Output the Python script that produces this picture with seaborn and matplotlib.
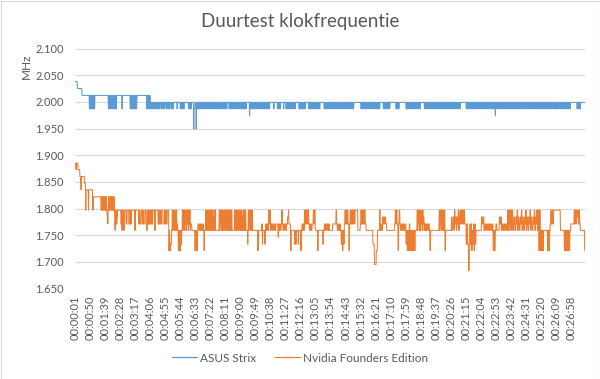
import matplotlib
matplotlib.use("Agg")
import matplotlib.pyplot as plt
from matplotlib.lines import Line2D
from matplotlib.patches import Rectangle
import seaborn as sns
import pandas as pd
import numpy as np

sns.set_theme(style="white")
plt.rcParams["font.family"] = ["Lato", "DejaVu Sans"]

# ---------------- data ----------------
title = "Duurtest klokfrequentie"
y_label = "MHz"
series_names = ["ASUS Strix", "Nvidia Founders Edition"]
n_seconds = 1663  # one sample per second, first sample = 00:00:01

tick_labels = ["00:00:01", "00:00:50", "00:01:39", "00:02:28", "00:03:17", "00:04:06",
               "00:04:55", "00:05:44", "00:06:33", "00:07:22", "00:08:11", "00:09:00",
               "00:09:49", "00:10:38", "00:11:27", "00:12:16", "00:13:05", "00:13:54",
               "00:14:43", "00:15:32", "00:16:21", "00:17:10", "00:17:59", "00:18:48",
               "00:19:37", "00:20:26", "00:21:15", "00:22:04", "00:22:53", "00:23:42",
               "00:24:31", "00:25:20", "00:26:09", "00:26:58"]

y_ticks = [1650, 1700, 1750, 1800, 1850, 1900, 1950, 2000, 2050, 2100]

# (second at which the clock changes, new clock in MHz)
asus_steps = [
    (0, 2038), (8, 2025), (23, 2012),
    (47, 1987), (49, 2012), (51, 1987), (53, 2012), (55, 1987), (57, 2012), (59, 1987), (61, 2012), (63, 1987), (65, 2012),
    (109, 1987), (111, 2012), (113, 1987), (115, 2012), (117, 1987), (119, 2012), (122, 1987), (124, 2012), (126, 1987),
    (128, 2012), (130, 1987), (132, 2012), (134, 1987), (136, 2012),
    (153, 1987), (155, 2012),
    (180, 1987), (182, 2012), (184, 1987), (186, 2012), (188, 1987), (190, 2012), (192, 1987), (194, 2012), (196, 1987),
    (198, 2012), (200, 1987), (202, 2012),
    (234, 1987), (236, 2012), (238, 1987), (240, 2012), (242, 1987), (244, 2012),
    (245, 1999), (247, 1987), (249, 1999), (251, 1987), (253, 1999), (255, 1987), (257, 1999), (259, 1987), (261, 1999),
    (263, 1987), (265, 1999), (267, 1987), (269, 1999), (272, 1987), (274, 1999), (276, 1987), (278, 1999), (282, 1987),
    (284, 1999), (287, 1987), (289, 1999), (292, 1987), (294, 1999), (298, 1987), (300, 1999), (303, 1987), (305, 1999),
    (308, 1987), (310, 1999), (314, 1987), (316, 1999), (319, 1987), (321, 1999),
    (333, 1987), (334, 1999), (343, 1987), (345, 1999), (347, 1987), (349, 1999), (351, 1987), (353, 1999), (355, 1987),
    (356, 1999), (370, 1987), (372, 1999), (374, 1987), (376, 1999), (378, 1987), (380, 1999),
    (387, 1949), (388, 1987), (391, 1999), (395, 1949), (396, 1987), (398, 1999),
    (400, 1987), (402, 1999), (405, 1987), (407, 1999), (410, 1987), (412, 1999), (414, 1987), (416, 1999), (419, 1987),
    (421, 1999), (424, 1987), (426, 1999), (428, 1987), (430, 1999), (433, 1987), (435, 1999), (438, 1987), (440, 1999),
    (442, 1987), (444, 1999), (447, 1987), (449, 1999), (452, 1987), (454, 1999), (456, 1987), (458, 1999), (461, 1987),
    (463, 1999), (466, 1987), (468, 1999), (470, 1987), (472, 1999), (475, 1987), (477, 1999), (480, 1987), (482, 1999),
    (484, 1987), (486, 1999), (489, 1987), (491, 1999), (494, 1987), (496, 1999),
    (502, 1987), (504, 1999), (507, 1987), (509, 1999), (512, 1987), (514, 1999), (517, 1987), (519, 1999), (522, 1987),
    (524, 1999), (527, 1987), (529, 1999), (532, 1987), (534, 1999), (537, 1987), (539, 1999), (542, 1987), (544, 1999),
    (547, 1987), (549, 1999), (552, 1987), (554, 1999), (557, 1987), (559, 1999),
    (569, 1974), (570, 1999),
    (573, 1987), (575, 1999), (578, 1987), (580, 1999), (583, 1987), (585, 1999), (588, 1987), (590, 1999), (593, 1987),
    (595, 1999), (598, 1987), (600, 1999), (603, 1987), (605, 1999), (608, 1987), (610, 1999), (613, 1987), (615, 1999),
    (618, 1987), (620, 1999), (623, 1987), (625, 1999), (628, 1987), (630, 1999), (633, 1987), (635, 1999),
    (648, 1987), (649, 1999),
    (660, 1987), (662, 1999), (664, 1987), (666, 1999), (668, 1987), (670, 1999),
    (680, 1987), (681, 1999), (688, 1987), (689, 1999),
    (692, 1987), (694, 1999), (697, 1987), (699, 1999), (702, 1987), (704, 1999), (707, 1987), (709, 1999), (712, 1987),
    (714, 1999), (717, 1987), (719, 1999),
    (730, 1987), (732, 1999), (735, 1987), (737, 1999), (740, 1987), (742, 1999), (745, 1987), (747, 1999), (750, 1987),
    (752, 1999),
    (762, 1987), (764, 1999), (767, 1987), (769, 1999), (772, 1987), (774, 1999), (777, 1987), (779, 1999), (782, 1987),
    (784, 1999), (787, 1987), (789, 1999), (792, 1987), (794, 1999), (797, 1987), (799, 1999),
    (812, 1987), (814, 1999), (817, 1987), (819, 1999), (822, 1987), (824, 1999), (827, 1987), (829, 1999), (832, 1987),
    (834, 1999), (837, 1987), (839, 1999), (842, 1987), (844, 1999), (847, 1987), (849, 1999), (852, 1987), (854, 1999),
    (857, 1987), (859, 1999), (862, 1987), (864, 1999), (867, 1987), (869, 1999), (872, 1987), (874, 1999), (877, 1987),
    (879, 1999), (882, 1987), (884, 1999), (887, 1987), (889, 1999), (892, 1987), (894, 1999), (897, 1987), (899, 1999),
    (902, 1987), (904, 1999), (907, 1987), (909, 1999),
    (932, 1987), (934, 1999), (937, 1987), (939, 1999), (942, 1987), (944, 1999), (947, 1987), (949, 1999), (952, 1987),
    (954, 1999), (957, 1987), (959, 1999), (962, 1987), (964, 1999), (967, 1987), (969, 1999), (972, 1987), (974, 1999),
    (977, 1987), (979, 1999), (982, 1987), (984, 1999), (987, 1987), (989, 1999), (992, 1987), (994, 1999),
    (1005, 1987), (1007, 1999), (1010, 1987), (1012, 1999), (1015, 1987), (1017, 1999), (1020, 1987), (1022, 1999),
    (1025, 1987), (1027, 1999),
    (1046, 1987), (1048, 1999), (1051, 1987), (1053, 1999), (1055, 1987), (1057, 1999),
    (1079, 1987), (1081, 1999), (1084, 1987), (1086, 1999), (1089, 1987), (1091, 1999), (1094, 1987), (1096, 1999),
    (1099, 1987), (1101, 1999), (1104, 1987), (1106, 1999), (1109, 1987), (1111, 1999), (1114, 1987), (1116, 1999),
    (1119, 1987), (1121, 1999), (1124, 1987), (1126, 1999),
    (1139, 1987), (1141, 1999), (1144, 1987), (1146, 1999), (1149, 1987), (1151, 1999), (1154, 1987), (1156, 1999),
    (1159, 1987), (1161, 1999), (1164, 1987), (1166, 1999), (1169, 1987), (1171, 1999), (1174, 1987), (1176, 1999),
    (1179, 1987), (1181, 1999), (1184, 1987), (1186, 1999), (1189, 1987), (1191, 1999), (1194, 1987), (1196, 1999),
    (1199, 1987), (1201, 1999), (1204, 1987), (1206, 1999), (1209, 1987), (1211, 1999), (1214, 1987), (1216, 1999),
    (1219, 1987), (1221, 1999), (1224, 1987), (1226, 1999), (1229, 1987), (1231, 1999), (1234, 1987), (1236, 1999),
    (1239, 1987), (1241, 1999), (1244, 1987), (1246, 1999), (1249, 1987), (1251, 1999), (1254, 1987), (1256, 1999),
    (1275, 1987), (1277, 1999), (1280, 1987), (1282, 1999), (1285, 1987), (1287, 1999), (1290, 1987), (1292, 1999),
    (1295, 1987), (1297, 1999), (1300, 1987), (1302, 1999), (1305, 1987), (1307, 1999), (1310, 1987), (1312, 1999),
    (1315, 1987), (1317, 1999), (1320, 1987), (1322, 1999), (1325, 1987), (1327, 1999), (1330, 1987), (1332, 1999),
    (1335, 1987), (1337, 1999), (1340, 1987), (1342, 1999), (1345, 1987), (1347, 1999), (1350, 1987), (1352, 1999),
    (1355, 1987), (1357, 1999), (1360, 1987), (1362, 1999), (1365, 1987), (1367, 1999),
    (1370, 1974), (1371, 1999),
    (1374, 1987), (1376, 1999), (1378, 1987), (1380, 1999), (1383, 1987), (1385, 1999), (1387, 1987), (1389, 1999),
    (1392, 1987), (1394, 1999), (1397, 1987), (1399, 1999), (1401, 1987), (1403, 1999), (1406, 1987), (1408, 1999),
    (1410, 1987), (1412, 1999), (1415, 1987), (1417, 1999), (1420, 1987), (1422, 1999), (1424, 1987), (1426, 1999),
    (1429, 1987), (1431, 1999), (1434, 1987), (1436, 1999), (1438, 1987), (1440, 1999), (1443, 1987), (1445, 1999),
    (1447, 1987), (1449, 1999), (1452, 1987), (1454, 1999), (1457, 1987), (1459, 1999), (1461, 1987), (1463, 1999),
    (1466, 1987), (1468, 1999), (1470, 1987), (1472, 1999), (1475, 1987), (1477, 1999), (1480, 1987), (1482, 1999),
    (1484, 1987), (1486, 1999), (1489, 1987), (1491, 1999), (1494, 1987), (1496, 1999), (1498, 1987), (1500, 1999),
    (1503, 1987), (1505, 1999), (1507, 1987), (1509, 1999), (1512, 1987), (1514, 1999), (1517, 1987), (1519, 1999),
    (1521, 1987), (1523, 1999), (1526, 1987), (1528, 1999), (1530, 1987), (1532, 1999), (1535, 1987), (1537, 1999),
    (1540, 1987), (1542, 1999), (1544, 1987), (1546, 1999), (1549, 1987), (1551, 1999), (1553, 1987), (1555, 1999),
    (1558, 1987), (1560, 1999), (1563, 1987), (1565, 1999), (1567, 1987), (1569, 1999), (1572, 1987), (1574, 1999),
    (1576, 1987), (1578, 1999), (1581, 1987), (1583, 1999), (1586, 1987), (1588, 1999), (1590, 1987), (1592, 1999),
    (1595, 1987), (1597, 1999), (1599, 1987), (1601, 1999), (1604, 1987), (1606, 1999), (1609, 1987), (1611, 1999),
    (1613, 1987), (1615, 1999),
    (1636, 1987), (1638, 1999), (1641, 1987), (1643, 1999), (1646, 1987), (1648, 1999),
]

nvidia_steps = [
    (0, 1885), (3, 1873), (5, 1885), (10, 1873), (16, 1860), (19, 1847), (20, 1835), (21, 1860), (31, 1847),
    (35, 1797), (36, 1835), (44, 1797), (45, 1835), (58, 1797), (60, 1822),
    (85, 1797), (87, 1822), (88, 1797), (90, 1822), (91, 1797), (93, 1822), (94, 1797), (96, 1822), (97, 1797),
    (99, 1822), (100, 1797), (102, 1822), (103, 1797), (105, 1784), (107, 1771), (108, 1797), (109, 1822),
    (110, 1797), (112, 1822), (113, 1797), (115, 1822), (116, 1797), (118, 1822), (120, 1797), (121, 1822),
    (122, 1797), (124, 1822), (125, 1797), (127, 1822), (128, 1797),
    (130, 1771), (131, 1759), (132, 1797), (133, 1771), (135, 1797), (136, 1771), (137, 1797), (138, 1784), (139, 1797),
    (150, 1771), (152, 1797), (153, 1759), (155, 1797), (156, 1771), (158, 1797), (159, 1759), (161, 1797),
    (167, 1771), (170, 1797), (176, 1771), (178, 1797), (179, 1771), (181, 1797), (182, 1771), (184, 1797),
    (195, 1759), (197, 1797), (208, 1771), (210, 1797), (211, 1771), (215, 1797), (219, 1771), (222, 1797),
    (223, 1771), (228, 1797), (232, 1771), (234, 1759), (236, 1797), (237, 1771), (239, 1797), (240, 1771),
    (242, 1797), (243, 1771), (245, 1797), (246, 1771), (248, 1797), (249, 1771), (251, 1797), (252, 1771),
    (254, 1797), (260, 1759), (262, 1797), (271, 1771), (274, 1797), (275, 1771), (279, 1797), (280, 1771),
    (282, 1797), (287, 1771), (292, 1797), (293, 1771), (295, 1797), (298, 1771), (301, 1797),
    (306, 1721), (308, 1759), (309, 1733), (311, 1721), (312, 1733), (315, 1759), (317, 1797), (319, 1759),
    (321, 1797), (322, 1771), (324, 1797), (325, 1759), (327, 1797), (329, 1759), (331, 1797), (332, 1759),
    (334, 1771), (335, 1759), (337, 1721), (339, 1759), (340, 1721), (342, 1759), (343, 1721), (345, 1759),
    (346, 1733), (348, 1759), (350, 1797), (352, 1759), (353, 1797), (355, 1771), (356, 1797), (358, 1759),
    (359, 1797), (361, 1771), (362, 1797), (364, 1759), (365, 1797), (367, 1771), (368, 1797), (370, 1759),
    (371, 1797), (373, 1771), (374, 1797), (376, 1759), (377, 1771), (381, 1759),
    (391, 1721), (393, 1759), (394, 1721), (396, 1759), (397, 1721), (399, 1759), (401, 1771), (404, 1759),
    (407, 1771), (409, 1759), (412, 1771), (414, 1759), (417, 1771), (419, 1759), (421, 1721), (422, 1759),
    (426, 1797), (428, 1759), (429, 1797), (431, 1759), (432, 1771), (434, 1797), (435, 1759), (437, 1797),
    (438, 1759), (440, 1797), (441, 1771), (443, 1759), (444, 1797), (446, 1759), (447, 1797), (449, 1759),
    (450, 1784), (452, 1759), (453, 1797), (455, 1759), (456, 1797), (458, 1759),
    (470, 1797), (472, 1759), (473, 1797), (475, 1771), (476, 1797), (478, 1759), (479, 1797), (481, 1759),
    (482, 1784), (484, 1759), (485, 1797), (487, 1759), (488, 1797), (490, 1771), (491, 1759), (493, 1797),
    (494, 1759), (496, 1797), (498, 1759), (499, 1797), (501, 1771), (502, 1759), (504, 1797), (506, 1759),
    (507, 1797), (509, 1759), (510, 1797), (512, 1759),
    (521, 1797), (523, 1759), (524, 1797), (526, 1759), (527, 1771), (529, 1797), (530, 1759), (532, 1797),
    (533, 1759), (535, 1797), (537, 1771), (538, 1759), (540, 1797), (542, 1759), (543, 1797), (545, 1759),
    (546, 1784), (548, 1759), (549, 1797), (551, 1759), (552, 1797), (554, 1759), (555, 1797), (557, 1759),
    (563, 1733), (564, 1759), (565, 1797), (567, 1759), (568, 1797), (570, 1771), (571, 1797), (573, 1759),
    (574, 1797), (576, 1759), (577, 1797), (579, 1759), (596, 1721), (598, 1759), (609, 1771), (611, 1733),
    (612, 1759), (619, 1733), (620, 1759), (622, 1771), (624, 1759), (626, 1771), (628, 1759), (631, 1797),
    (633, 1771), (635, 1797), (637, 1759), (639, 1771), (642, 1759), (644, 1771), (647, 1759), (649, 1771),
    (652, 1759), (655, 1771), (662, 1746), (664, 1771), (666, 1759), (668, 1771), (670, 1759), (672, 1771),
    (674, 1797), (676, 1771), (678, 1759), (680, 1771), (683, 1759), (685, 1771), (688, 1759), (690, 1771),
    (693, 1784), (696, 1797), (697, 1771), (703, 1721), (705, 1759), (716, 1733), (717, 1759), (720, 1733),
    (721, 1759), (728, 1733), (729, 1759), (736, 1721), (738, 1759), (740, 1771), (742, 1759), (744, 1771),
    (746, 1759), (748, 1797), (750, 1771), (751, 1797), (753, 1771), (754, 1797), (756, 1771), (757, 1797),
    (759, 1771), (760, 1797), (762, 1771), (764, 1759), (767, 1771), (770, 1759), (773, 1771), (777, 1797),
    (779, 1771), (781, 1797), (783, 1759), (791, 1721), (793, 1759), (808, 1733), (810, 1759), (813, 1771),
    (815, 1759), (817, 1771), (820, 1759), (822, 1771), (825, 1759), (827, 1771), (829, 1759), (840, 1771),
    (851, 1797), (853, 1771), (855, 1759), (858, 1771), (860, 1759), (863, 1771), (865, 1759), (868, 1733),
    (870, 1759), (872, 1721), (874, 1759), (876, 1733), (878, 1771), (880, 1797), (882, 1771), (884, 1797),
    (886, 1771), (888, 1797), (890, 1771), (893, 1721), (895, 1771), (897, 1797), (899, 1771), (901, 1797),
    (903, 1771), (905, 1797), (907, 1771), (909, 1797), (911, 1771), (913, 1797), (922, 1759), (930, 1771),
    (932, 1797), (934, 1771), (936, 1797), (938, 1771), (940, 1797), (942, 1771), (944, 1797), (946, 1771),
    (949, 1759), (971, 1733), (976, 1695), (982, 1721), (986, 1759), (993, 1797), (995, 1759), (998, 1771),
    (1000, 1759), (1003, 1784), (1005, 1771), (1007, 1784), (1009, 1771), (1011, 1784), (1013, 1771),
    (1016, 1759), (1042, 1771), (1044, 1797), (1046, 1771), (1048, 1797), (1050, 1771), (1053, 1721),
    (1055, 1771), (1057, 1797), (1059, 1771), (1061, 1759), (1064, 1771), (1067, 1759), (1070, 1771),
    (1073, 1759), (1076, 1771), (1079, 1733), (1081, 1759), (1083, 1721), (1085, 1759), (1087, 1721),
    (1089, 1759), (1090, 1771), (1092, 1721), (1094, 1759), (1096, 1721), (1098, 1759), (1100, 1721),
    (1102, 1759), (1104, 1721), (1106, 1759), (1107, 1721), (1109, 1759),
    (1115, 1797), (1117, 1759), (1118, 1797), (1120, 1771), (1121, 1797), (1123, 1759), (1124, 1784),
    (1126, 1759), (1127, 1797), (1129, 1771), (1130, 1784), (1132, 1759), (1133, 1797), (1135, 1771),
    (1136, 1784), (1138, 1759), (1139, 1771), (1141, 1759), (1143, 1771), (1145, 1759), (1147, 1771),
    (1150, 1759), (1152, 1771), (1155, 1759), (1157, 1721), (1159, 1759),
    (1187, 1797), (1189, 1759), (1190, 1797), (1192, 1771), (1193, 1797), (1195, 1759), (1196, 1797),
    (1198, 1784), (1199, 1759), (1201, 1797), (1203, 1759), (1204, 1797), (1206, 1721), (1208, 1759),
    (1227, 1784), (1229, 1759), (1231, 1771), (1233, 1784), (1235, 1759), (1237, 1797), (1239, 1771),
    (1241, 1784), (1243, 1759), (1245, 1784), (1247, 1771), (1249, 1797), (1251, 1759), (1253, 1784),
    (1255, 1797), (1257, 1771), (1258, 1797), (1260, 1771), (1261, 1797), (1263, 1771), (1265, 1797),
    (1267, 1771), (1268, 1797), (1270, 1771), (1275, 1733), (1278, 1771), (1280, 1733), (1283, 1683),
    (1285, 1721), (1287, 1771), (1289, 1733), (1291, 1771), (1293, 1721), (1295, 1759), (1297, 1733),
    (1299, 1771), (1301, 1721), (1303, 1771), (1305, 1733), (1307, 1759),
    (1325, 1784), (1328, 1771), (1330, 1784), (1333, 1759), (1336, 1771), (1339, 1759), (1342, 1771),
    (1345, 1759), (1348, 1771), (1351, 1759), (1354, 1771), (1357, 1759), (1360, 1771), (1363, 1721),
    (1365, 1759), (1367, 1721), (1370, 1759), (1372, 1771), (1375, 1759), (1383, 1784), (1386, 1771),
    (1388, 1784), (1390, 1759), (1393, 1771), (1396, 1759), (1399, 1771), (1402, 1759), (1405, 1771),
    (1408, 1759), (1410, 1797), (1412, 1759), (1413, 1797), (1415, 1771), (1416, 1797), (1418, 1759),
    (1419, 1797), (1421, 1771), (1422, 1797), (1424, 1759), (1425, 1797), (1427, 1771), (1429, 1759),
    (1431, 1784), (1433, 1771), (1435, 1759), (1437, 1784), (1439, 1771), (1441, 1797), (1443, 1759),
    (1445, 1784), (1447, 1771), (1449, 1759), (1451, 1784), (1453, 1771), (1455, 1797), (1457, 1759),
    (1459, 1784), (1461, 1771), (1463, 1759), (1465, 1784), (1467, 1771), (1469, 1797), (1471, 1759),
    (1473, 1784), (1475, 1771), (1477, 1759), (1479, 1784), (1481, 1771), (1483, 1797), (1485, 1759),
    (1487, 1784), (1489, 1771), (1491, 1759), (1493, 1784), (1495, 1771), (1497, 1797), (1499, 1759),
    (1501, 1784), (1503, 1771), (1505, 1797), (1507, 1759), (1509, 1797), (1512, 1721), (1514, 1797),
    (1517, 1721), (1519, 1759), (1521, 1721), (1523, 1759), (1525, 1721), (1527, 1759), (1540, 1721),
    (1542, 1759), (1545, 1721), (1547, 1759), (1549, 1771), (1551, 1797), (1553, 1771), (1555, 1797),
    (1557, 1771), (1560, 1797), (1582, 1759), (1595, 1721), (1597, 1759), (1599, 1721), (1601, 1759),
    (1603, 1721), (1605, 1759), (1607, 1721), (1609, 1759), (1611, 1721), (1613, 1759), (1616, 1771),
    (1627, 1797), (1629, 1771), (1631, 1797), (1633, 1771), (1635, 1797), (1637, 1784), (1639, 1797),
    (1641, 1771), (1643, 1797), (1645, 1771), (1647, 1759), (1661, 1721),
]

# ---------------- build per-second series from the logged steps ----------------
def expand(steps, n):
    steps = sorted(steps)
    vals = np.empty(n)
    for i, (start, v) in enumerate(steps):
        end = steps[i + 1][0] if i + 1 < len(steps) else n
        vals[start:end] = v
    return vals

sec = np.arange(n_seconds)
df = pd.concat([
    pd.DataFrame({"t": sec, "MHz": expand(asus_steps, n_seconds), "kaart": series_names[0]}),
    pd.DataFrame({"t": sec, "MHz": expand(nvidia_steps, n_seconds), "kaart": series_names[1]}),
])

def to_index(lbl):
    h, m, s = (int(p) for p in lbl.split(":"))
    return h * 3600 + m * 60 + s - 1

tick_pos = [to_index(l) for l in tick_labels]

# ---------------- draw ----------------
blue = "#5B9BD5"
orange = "#ED7D31"
grey_txt = "#595959"
grid_c = "#D9D9D9"

W, H = 600, 379
fig = plt.figure(figsize=(W / 100, H / 100), dpi=100)
ax = fig.add_axes([75 / W, 1 - 288.5 / H, 510 / W, (288.5 - 48.5) / H])

sns.lineplot(data=df, x="t", y="MHz", hue="kaart", palette=[blue, orange],
             estimator=None, linewidth=0.75, legend=False, ax=ax)

ax.set_xlim(0, n_seconds - 1)
ax.set_ylim(y_ticks[0], y_ticks[-1])
ax.set_yticks(y_ticks)
ax.set_yticklabels([f"{v:,}".replace(",", ".") for v in y_ticks])
ax.set_xticks(tick_pos)
ax.set_xticklabels(tick_labels, rotation=90)
ax.set_xlabel("")
ax.set_ylabel("")
ax.grid(False)
ax.yaxis.grid(True, color=grid_c, linewidth=0.8)
ax.set_axisbelow(True)
for sp in ax.spines.values():
    sp.set_visible(False)
ax.tick_params(axis="both", length=0, colors=grey_txt, labelsize=8)
ax.tick_params(axis="y", pad=8)
ax.tick_params(axis="x", pad=5)

fig.text(0.5, 1 - 21 / H, title, ha="center", va="center", fontsize=13.5, color=grey_txt)
fig.text(26.5 / W, 1 - 66 / H, y_label, ha="center", va="center", rotation=90, fontsize=8.5, color=grey_txt)

handles = [Line2D([0], [0], color=blue, lw=0.9), Line2D([0], [0], color=orange, lw=0.9)]
fig.legend(handles, series_names, loc="center", bbox_to_anchor=(0.5, 1 - 358 / H), ncol=2,
           frameon=False, fontsize=8.5, handlelength=2.1, handletextpad=0.25, columnspacing=1.6,
           labelcolor=grey_txt)

fig.patches.append(Rectangle((0.5 / W, 0.5 / H), 1 - 1 / W, 1 - 1 / H, transform=fig.transFigure,
                             fill=False, edgecolor=grid_c, linewidth=0.8))

fig.savefig("out.png", dpi=100, facecolor="white")
